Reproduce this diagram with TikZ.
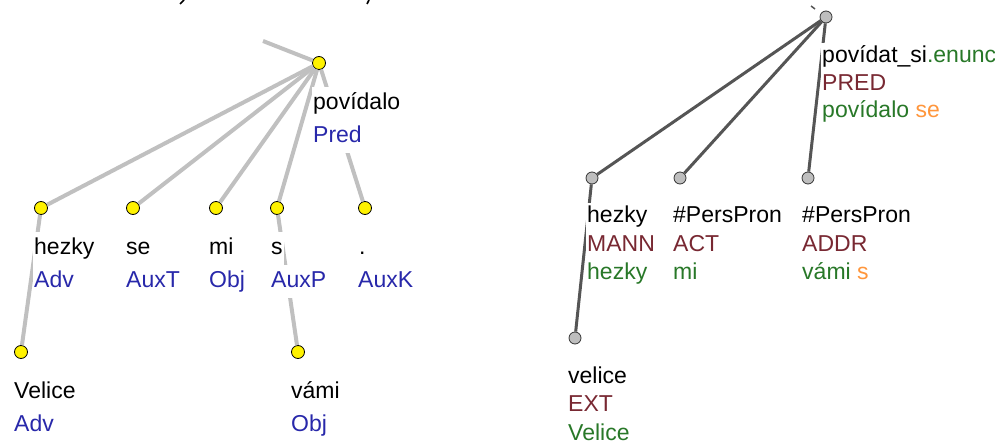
\documentclass[tikz,border=0pt]{standalone}
\usepackage{fontspec}
\setmainfont{Liberation Sans}
\definecolor{afun}{RGB}{40,40,170}
\definecolor{functor}{RGB}{120,40,50}
\definecolor{formgreen}{RGB}{40,120,40}
\definecolor{auxorange}{RGB}{255,150,60}
\definecolor{ledgecol}{RGB}{192,192,192}
\definecolor{redgecol}{RGB}{85,85,85}
\definecolor{gnodefill}{RGB}{190,190,190}
\tikzset{
  ynode/.style={circle, fill=yellow, draw=black, line width=0.8pt, minimum size=13pt, inner sep=0pt},
  gnode/.style={circle, fill=gnodefill, draw=black!80, line width=0.8pt, minimum size=12pt, inner sep=0pt},
  ledge/.style={draw=ledgecol, line width=4pt},
  redge/.style={draw=redgecol, line width=3pt},
  ltxt/.style={anchor=base west, inner xsep=1pt, inner ysep=0pt, fill=white, font=\fontsize{23}{33}\selectfont},
  rtxt/.style={anchor=base west, inner xsep=1pt, inner ysep=0pt, fill=white, font=\fontsize{23}{28.5}\selectfont},
}
\begin{document}
\begin{tikzpicture}[x=1pt, y=-1pt]
\useasboundingbox (0,0) rectangle (995,443);
% cut-off title fragments
\draw[line width=1.6pt] (184,0) -- (180,4);
\draw[line width=1.6pt] (369,0) -- (367,4);

% ---------- left tree (analytical) ----------
\node[ynode] (lP) at (319,63) {};
\node[ynode] (lH) at (41,208) {};
\node[ynode] (lS) at (133,208) {};
\node[ynode] (lM) at (216,208) {};
\node[ynode] (lSs) at (277,208) {};
\node[ynode] (lK) at (365,208) {};
\node[ynode] (lV) at (21,352) {};
\node[ynode] (lVa) at (298,352) {};
\coordinate (lTop) at (263,41);

\draw[ledge] (lP) -- (lTop);
\draw[ledge] (lP) -- (lH);
\draw[ledge] (lP) -- (lS);
\draw[ledge] (lP) -- (lM);
\draw[ledge] (lP) -- (lSs);
\draw[ledge] (lP) -- (lK);
\draw[ledge] (lH) -- (lV);
\draw[ledge] (lSs) -- (lVa);

\node[ltxt] (lPw) at (312,110) {\strut pov\'{\i}dalo};
\node[ltxt, text=afun] (lPa) at (312,143) {\strut Pred};
\node[ltxt] (lHw) at (33,255) {\strut hezky};
\node[ltxt, text=afun] (lHa) at (33,288) {\strut Adv};
\node[ltxt] (lSw) at (125,255) {\strut se};
\node[ltxt, text=afun] (lSa) at (125,288) {\strut AuxT};
\node[ltxt] (lMw) at (208,255) {\strut mi};
\node[ltxt, text=afun] (lMa) at (208,288) {\strut Obj};
\node[ltxt] (lSsw) at (270,255) {\strut s};
\node[ltxt, text=afun] (lSsa) at (270,288) {\strut AuxP};
\node[ltxt] (lKw) at (358,255) {\strut .};
\node[ltxt, text=afun] (lKa) at (357,288) {\strut AuxK};
\node[ltxt] (lVw) at (13,398) {\strut Velice};
\node[ltxt, text=afun] (lVa2) at (13,431) {\strut Adv};
\node[ltxt] (lVaw) at (290,398) {\strut v\'ami};
\node[ltxt, text=afun] (lVaa) at (290,431) {\strut Obj};

% ---------- right tree (tectogrammatical) ----------
\node[gnode] (rP) at (826,17) {};
\node[gnode] (rH) at (592,178) {};
\node[gnode] (rA) at (680,178) {};
\node[gnode] (rD) at (808,178) {};
\node[gnode] (rV) at (575,338) {};
\coordinate (rTa) at (811,6);
\coordinate (rTb) at (815,9);

\draw[redgecol, line width=1.5pt] (rTa) -- (rTb);
\draw[redge] (rP) -- (rH);
\draw[redge] (rP) -- (rA);
\draw[redge] (rP) -- (rD);
\draw[redge] (rH) -- (rV);

\node[rtxt] (rPw) at (821,63) {\strut pov\'{\i}dat\_si\textcolor{formgreen}{.enunc}};
\node[rtxt, text=functor] (rPf) at (821,90.5) {\strut PRED};
\node[rtxt, text=formgreen] (rPs) at (821,118) {\strut pov\'{\i}dalo \textcolor{auxorange}{se}};

\node[rtxt] (rHw) at (586,223) {\strut hezky};
\node[rtxt, text=functor] (rHf) at (586,251.5) {\strut MANN};
\node[rtxt, text=formgreen] (rHs) at (586,280) {\strut hezky};

\node[rtxt] (rAw) at (672,223) {\strut \#PersPron};
\node[rtxt, text=functor] (rAf) at (672,251.5) {\strut ACT};
\node[rtxt, text=formgreen] (rAs) at (672,280) {\strut mi};

\node[rtxt] (rDw) at (801,223) {\strut \#PersPron};
\node[rtxt, text=functor] (rDf) at (801,251.5) {\strut ADDR};
\node[rtxt, text=formgreen] (rDs) at (801,280) {\strut v\'ami \textcolor{auxorange}{s}};

\node[rtxt] (rVw) at (567,383) {\strut velice};
\node[rtxt, text=functor] (rVf) at (567,411.5) {\strut EXT};
\node[rtxt, text=formgreen] (rVs) at (567,440) {\strut Velice};
\end{tikzpicture}
\end{document}
